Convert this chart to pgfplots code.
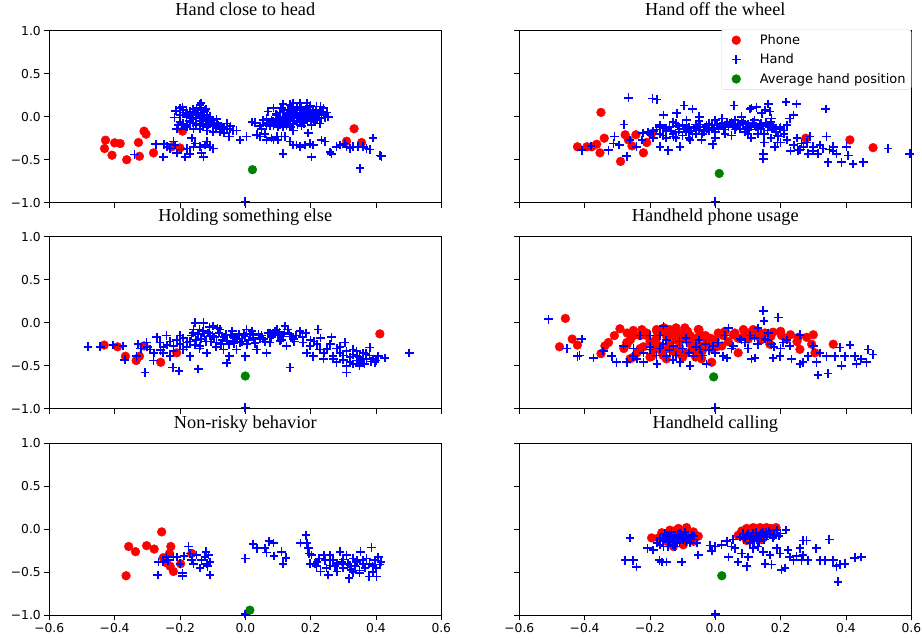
\documentclass[border=0pt]{standalone}
\usepackage{pgfplots}
\pgfplotsset{compat=1.18}
\usepackage{fontspec}
\setmainfont{Liberation Serif}
\newfontfamily\dejavu{DejaVu Sans}
\definecolor{mplgreen}{RGB}{0,128,0}
\pgfplotsset{
 panel/.style={
   scale only axis, width=392pt, height=172pt,
   xmin=-0.6, xmax=0.6, ymin=-1, ymax=1,
   xtick={-0.6,-0.4,-0.2,0,0.2,0.4,0.6},
   ytick={-1,-0.5,0,0.5,1},
   xtick pos=left, ytick pos=left,
   tick align=outside, major tick length=5pt,
   every tick/.style={black, line width=0.9pt},
   axis line style={line width=0.9pt},
   clip marker paths=false,
   title style={font=\fontsize{18.3}{20}\selectfont, anchor=base, at={(0.5,1)}, yshift=9pt, inner sep=0pt},
   tick label style={font=\dejavu\fontsize{12.3}{14}\selectfont},
   xticklabels={}, yticklabels={},
 },
 ylab/.style={yticklabels={−1.0,−0.5,0.0,0.5,1.0}},
 xlab/.style={xticklabels={−0.6,−0.4,−0.2,0.0,0.2,0.4,0.6}},
 myleg/.style={legend image code/.code={\path[draw=none,fill=none] (0pt,-3pt) rectangle (33pt,3pt); \draw[##1, only marks] plot coordinates {(11pt,0pt)};}},
 phone/.style={only marks, mark=*, mark size=4.4pt, color=red, mark options={solid}, myleg},
 hand/.style={only marks, mark=+, mark size=4.3pt, color=blue, mark options={line width=1.7pt, solid, draw=blue}, myleg},
 handx/.style={hand, forget plot},
 avg/.style={only marks, mark=*, mark size=4.4pt, color=mplgreen, mark options={solid}, myleg},
}
\begin{document}
\begin{tikzpicture}
\path[use as bounding box] (0pt,0pt) rectangle (922pt,-640pt);

% ---------------- Panel 1
\begin{axis}[panel, ylab, at={(49.3pt,-30.7pt)}, anchor=north west, title={Hand close to head}]
\addplot[phone] coordinates {(-0.428,-0.273) (-0.431,-0.37) (-0.408,-0.448) (-0.40,-0.304) (-0.383,-0.312) (-0.363,-0.50) (-0.327,-0.30) (-0.324,-0.46) (-0.31,-0.168) (-0.304,-0.203) (-0.281,-0.421) (-0.225,-0.35) (-0.20,-0.363) (-0.192,-0.168) (0.31,-0.285) (0.333,-0.14) (0.356,-0.30)};
\addplot[handx] coordinates {
(-0.217,-0.01) (-0.213,0.07) (-0.192,0.11) (-0.19,0.08) (-0.179,0.04) (-0.164,0.02) (-0.149,0.08) (-0.139,0.14) (-0.136,0.16) (-0.134,0.10) (-0.118,0.02) (-0.108,0.0) (-0.098,-0.04) (-0.088,-0.03) (-0.083,-0.10) (-0.072,-0.14) (-0.057,-0.08) (-0.047,-0.14) (-0.037,-0.16) (-0.027,-0.16) (-0.049,-0.23) (-0.065,-0.19) (-0.077,-0.18) (-0.098,-0.18) (-0.118,-0.16) (-0.139,-0.14) (-0.159,-0.14) (-0.179,-0.12) (-0.195,-0.14) (-0.21,-0.14) (-0.20,-0.06) (-0.169,-0.06) (-0.149,-0.08) (-0.128,-0.08) (-0.118,-0.12)};
\addplot[handx] coordinates {
(-0.18,0.0) (-0.16,-0.03) (-0.15,0.03) (-0.14,-0.05) (-0.13,0.05) (-0.12,-0.03) (-0.17,0.06) (-0.2,0.02) (-0.11,-0.06) (-0.1,-0.1) (-0.15,-0.1) (-0.19,-0.08) (-0.13,-0.11) (-0.09,-0.12) (-0.16,0.09) (-0.2,0.1) (-0.18,0.05) (-0.14,0.0) (-0.17,-0.05) (-0.125,-0.01)
(-0.19,0.05) (-0.175,0.02) (-0.165,-0.01) (-0.155,0.06) (-0.145,0.04) (-0.135,-0.02) (-0.125,0.07) (-0.115,-0.09) (-0.105,-0.07) (-0.095,-0.09) (-0.085,-0.07) (-0.075,-0.11) (-0.065,-0.12) (-0.055,-0.15) (-0.045,-0.11) (-0.16,-0.07) (-0.18,-0.1) (-0.205,-0.1) (-0.14,-0.09) (-0.12,0.09)};
\addplot[handx] coordinates {
(-0.248,-0.32) (-0.251,-0.47) (-0.24,-0.35) (-0.23,-0.37) (-0.22,-0.29) (-0.215,-0.33) (-0.21,-0.42) (-0.195,-0.38) (-0.185,-0.47) (-0.179,-0.37) (-0.169,-0.43) (-0.164,-0.25) (-0.159,-0.35) (-0.154,-0.31) (-0.139,-0.35) (-0.134,-0.42) (-0.128,-0.47) (-0.123,-0.33) (-0.118,-0.29) (-0.108,-0.35) (-0.098,-0.37) (-0.274,-0.32) (-0.339,-0.44)
(-0.016,-0.27) (0.004,-0.23) (0.021,-0.06) (0.03,-0.07)};
\addplot[handx] coordinates {
(0.055,-0.04) (0.065,-0.02) (0.07,0.06) (0.086,0.10) (0.096,0.02) (0.116,0.15) (0.137,0.14) (0.147,0.16) (0.157,0.10) (0.167,0.16) (0.177,0.08) (0.188,0.16) (0.198,0.12) (0.208,0.06) (0.218,0.12) (0.228,0.08) (0.239,0.10) (0.254,0.0) (0.228,-0.08) (0.218,-0.04) (0.208,-0.02) (0.198,0.0) (0.188,-0.04) (0.177,-0.02) (0.167,-0.04) (0.157,-0.06) (0.147,-0.08) (0.137,-0.10) (0.126,-0.10) (0.116,-0.12) (0.106,-0.09) (0.096,-0.08) (0.086,-0.10) (0.075,-0.11) (0.065,-0.10) (0.045,-0.11) (0.05,-0.14) (0.06,-0.2) (0.08,-0.25) (0.096,-0.23) (0.137,0.0) (0.147,0.02) (0.126,0.02) (0.116,0.0) (0.167,0.04) (0.182,0.02) (0.193,0.04) (0.213,0.02) (0.233,-0.02) (0.203,-0.10) (0.172,-0.11) (0.147,-0.16) (0.121,-0.23) (0.111,-0.23)};
\addplot[handx] coordinates {
(0.12,0.05) (0.14,0.06) (0.16,0.05) (0.18,0.06) (0.2,0.08) (0.15,-0.02) (0.17,0.0) (0.19,-0.01) (0.21,-0.06) (0.13,-0.04) (0.11,-0.06) (0.1,-0.03) (0.14,0.1) (0.16,0.12) (0.22,0.04) (0.24,0.02) (0.25,0.05) (0.2,0.13) (0.13,0.08) (0.09,-0.06) (0.08,-0.04) (0.07,-0.07) (0.155,0.03) (0.185,0.09) (0.175,-0.06) (0.21,0.03)
(0.085,-0.05) (0.095,0.03) (0.105,0.05) (0.115,0.08) (0.125,-0.03) (0.135,0.04) (0.145,-0.05) (0.155,0.08) (0.165,0.01) (0.175,0.04) (0.185,-0.02) (0.195,0.05) (0.205,0.0) (0.215,0.07) (0.225,0.03) (0.235,0.06) (0.245,-0.01) (0.1,-0.12) (0.12,-0.08) (0.14,-0.12) (0.16,-0.09) (0.18,-0.08) (0.2,-0.05) (0.22,-0.01) (0.11,0.1) (0.17,0.12) (0.19,0.11) (0.23,0.12)};
\addplot[handx] coordinates {
(0.035,-0.21) (0.045,-0.23) (0.065,-0.27) (0.086,-0.27) (0.10,-0.27) (0.116,-0.43) (0.137,-0.29) (0.147,-0.33) (0.157,-0.33) (0.167,-0.35) (0.182,-0.33) (0.198,-0.31) (0.203,-0.47) (0.208,-0.33) (0.193,-0.19) (0.233,-0.27) (0.244,-0.29) (0.259,-0.41) (0.264,-0.43) (0.279,-0.35) (0.29,-0.33) (0.305,-0.31) (0.31,-0.35) (0.32,-0.37) (0.33,-0.35) (0.346,-0.35) (0.351,-0.60) (0.361,-0.35) (0.371,-0.37) (0.381,-0.38) (0.391,-0.25) (0.412,-0.45) (0.417,-0.46)
(0.0,-0.985)};
\addplot[avg] coordinates {(0.022,-0.616)};
\end{axis}

% ---------------- Panel 2
\begin{axis}[panel, at={(519.3pt,-30.7pt)}, anchor=north west, title={Hand off the wheel},
  legend style={at={(1,1.008)}, anchor=north east, draw=black!15, rounded corners=2.5pt, fill=white, font=\dejavu\fontsize{13}{15}\selectfont, inner xsep=4pt, inner ysep=3.5pt, row sep=5pt, nodes={inner sep=1.5pt}},
  legend cell align=left]
\addplot[phone] coordinates {(-0.422,-0.35) (-0.393,-0.35) (-0.378,-0.35) (-0.363,-0.32) (-0.353,-0.42) (-0.35,0.05) (-0.34,-0.25) (-0.29,-0.52) (-0.276,-0.21) (-0.266,-0.27) (-0.255,-0.34) (-0.243,-0.21) (-0.22,-0.42) (-0.21,-0.30) (-0.195,-0.195) (0.277,-0.25) (0.412,-0.27) (0.483,-0.36)};
\addlegendentry{Phone}
\addplot[hand] coordinates {
(-0.409,-0.39) (-0.381,-0.34) (-0.327,-0.39) (-0.309,-0.23) (-0.312,-0.31) (-0.294,-0.33) (-0.279,-0.09) (-0.271,-0.46) (-0.266,0.22) (-0.261,-0.27) (-0.241,-0.35) (-0.225,-0.27) (-0.222,-0.19) (-0.205,-0.18) (-0.192,0.21) (-0.179,0.20) (-0.171,-0.12) (-0.169,-0.35) (-0.159,0.02) (-0.149,-0.14) (-0.144,-0.39) (-0.128,-0.23) (-0.118,0.04) (-0.113,-0.18) (-0.108,-0.35) (-0.096,0.13) (-0.088,-0.04) (-0.077,-0.27) (-0.07,0.09) (-0.049,0.0) (-0.042,-0.27) (-0.027,-0.10) (-0.008,-0.32) (0.0,-0.04)};
\addlegendentry{Hand}
\addplot[handx] coordinates {
(-0.2,-0.2) (-0.18,-0.15) (-0.16,-0.22) (-0.15,-0.17) (-0.14,-0.12) (-0.13,-0.2) (-0.12,-0.08) (-0.11,-0.15) (-0.1,-0.22) (-0.1,-0.1) (-0.09,-0.18) (-0.08,-0.12) (-0.07,-0.2) (-0.06,-0.09) (-0.05,-0.15) (-0.04,-0.2) (-0.03,-0.12) (-0.02,-0.16) (-0.01,-0.1) (0.0,-0.18) (0.01,-0.14) (0.02,-0.08) (0.03,-0.2) (0.04,-0.12) (0.05,-0.06) (0.06,-0.15) (0.07,-0.1) (0.08,-0.05) (0.09,-0.18) (0.1,-0.09) (0.11,-0.12) (0.12,-0.04) (0.13,-0.15) (0.14,-0.08) (0.15,-0.2) (0.16,-0.1) (0.17,-0.06) (0.18,-0.14) (0.19,-0.22)};
\addplot[handx] coordinates {
(-0.17,-0.1) (-0.19,-0.25) (-0.08,-0.25) (0.0,-0.25) (0.05,-0.22) (0.1,-0.2) (-0.05,-0.05) (0.02,-0.02) (0.08,-0.0) (0.12,-0.1) (-0.12,-0.25) (-0.15,-0.25) (-0.06,-0.2) (0.06,-0.04) (0.1,-0.14) (0.14,-0.14) (0.16,-0.16) (-0.02,-0.08) (-0.13,-0.06) (0.03,-0.1) (-0.085,-0.14) (-0.035,-0.17) (0.015,-0.11) (0.065,-0.12) (0.115,-0.07) (0.165,-0.12) (0.045,-0.08) (-0.065,-0.13)
(-0.19,-0.17) (-0.17,-0.2) (-0.155,-0.13) (-0.135,-0.16) (-0.115,-0.11) (-0.095,-0.14) (-0.075,-0.16) (-0.055,-0.12) (-0.045,-0.09) (-0.025,-0.14) (-0.005,-0.13) (0.005,-0.09) (0.025,-0.15) (0.035,-0.07) (0.055,-0.1) (0.075,-0.14) (0.085,-0.08) (0.095,-0.12) (0.105,-0.15) (0.125,-0.12) (0.135,-0.09) (0.145,-0.11) (0.155,-0.07) (0.175,-0.1) (0.185,-0.18) (0.2,-0.12) (0.21,-0.16) (0.22,-0.1) (0.13,-0.2) (0.11,-0.25)};
\addplot[handx] coordinates {
(0.057,0.13) (0.086,-0.06) (0.106,0.09) (0.111,0.10) (0.126,0.11) (0.142,0.04) (0.147,-0.43) (0.147,-0.49) (0.152,0.08) (0.162,0.15) (0.167,0.06) (0.172,-0.02) (0.177,-0.12) (0.182,-0.35) (0.193,-0.23) (0.198,-0.14) (0.216,0.17) (0.228,-0.02) (0.239,0.02) (0.249,0.15) (0.254,-0.39) (0.264,-0.31) (0.284,-0.43) (0.29,-0.23) (0.3,-0.35) (0.315,-0.43) (0.33,-0.37) (0.338,0.09) (0.34,-0.23) (0.345,-0.53) (0.361,-0.35) (0.371,-0.43) (0.386,-0.53) (0.402,-0.35) (0.407,-0.45) (0.422,-0.55) (0.453,-0.53) (0.529,-0.37) (0.595,-0.43)};
\addplot[handx] coordinates {
(0.2,-0.3) (0.22,-0.27) (0.24,-0.33) (0.26,-0.38) (0.28,-0.3) (0.3,-0.4) (0.32,-0.33) (0.23,-0.4) (0.21,-0.2) (0.25,-0.25) (0.19,-0.3) (0.17,-0.25) (0.15,-0.3) (0.27,-0.35) (0.35,-0.38) (0.36,-0.4)
(0.0,-0.985)};
\addplot[avg] coordinates {(0.012,-0.66)};
\addlegendentry{Average hand position}
\end{axis}

% ---------------- Panel 3
\begin{axis}[panel, ylab, at={(49.3pt,-236.7pt)}, anchor=north west, title={Holding something else}]
\addplot[phone] coordinates {(-0.432,-0.26) (-0.391,-0.28) (-0.367,-0.39) (-0.334,-0.44) (-0.324,-0.39) (-0.31,-0.27) (-0.259,-0.46) (-0.21,-0.35) (0.412,-0.13)};
\addplot[handx] coordinates {
(-0.482,-0.28) (-0.444,-0.28) (-0.404,-0.26) (-0.374,-0.27) (-0.369,-0.43) (-0.333,-0.39) (-0.328,-0.25) (-0.307,-0.58) (-0.302,-0.23) (-0.291,-0.31) (-0.281,-0.44) (-0.271,-0.17) (-0.261,-0.23) (-0.251,-0.35) (-0.241,-0.15) (-0.23,-0.39) (-0.222,-0.52) (-0.22,-0.27) (-0.203,-0.56) (-0.2,-0.15) (-0.19,-0.31) (-0.179,-0.23) (-0.169,-0.39) (-0.159,-0.08) (-0.154,0.0) (-0.144,-0.54) (-0.139,-0.27) (-0.128,0.0) (-0.118,-0.35) (-0.108,-0.15) (-0.098,-0.04) (-0.088,-0.23) (-0.077,-0.08) (-0.067,-0.31) (-0.057,-0.47) (-0.049,-0.39) (-0.037,-0.17) (-0.027,-0.31) (-0.016,-0.23) (0.0,-0.39)};
\addplot[handx] coordinates {
(0.004,-0.08) (0.024,-0.15) (0.035,-0.31) (0.045,-0.19) (0.065,-0.35) (0.075,-0.12) (0.096,-0.08) (0.106,-0.21) (0.121,-0.04) (0.126,-0.27) (0.137,-0.52) (0.147,-0.19) (0.167,-0.10) (0.177,-0.23) (0.188,-0.35) (0.198,-0.27) (0.208,-0.39) (0.223,-0.08) (0.228,-0.31) (0.239,-0.42) (0.249,-0.31) (0.264,-0.17) (0.269,-0.39) (0.279,-0.46) (0.29,-0.35) (0.305,-0.23) (0.31,-0.58) (0.32,-0.46) (0.33,-0.31) (0.341,-0.39) (0.351,-0.46) (0.361,-0.35) (0.371,-0.42) (0.381,-0.29) (0.396,-0.46) (0.407,-0.39) (0.427,-0.41) (0.502,-0.35)};
\addplot[handx] coordinates {
(-0.15,-0.2) (-0.13,-0.1) (-0.12,-0.22) (-0.1,-0.15) (-0.09,-0.28) (-0.08,-0.12) (-0.07,-0.2) (-0.06,-0.14) (-0.05,-0.25) (-0.04,-0.1) (-0.03,-0.18) (-0.02,-0.13) (-0.01,-0.22) (0.0,-0.16) (0.01,-0.2) (0.02,-0.1) (0.03,-0.24) (0.05,-0.15) (0.06,-0.22) (0.08,-0.17) (0.09,-0.1) (0.1,-0.14) (0.11,-0.2) (0.12,-0.12) (0.14,-0.16) (0.15,-0.22) (-0.14,-0.3) (-0.11,-0.05) (-0.16,-0.12) (-0.18,-0.28) (-0.2,-0.25) (-0.22,-0.33) (-0.25,-0.28) (-0.28,-0.35)};
\addplot[handx] coordinates {
(0.2,-0.2) (0.22,-0.25) (0.25,-0.3) (0.28,-0.3) (0.3,-0.38) (0.32,-0.4) (0.34,-0.33) (0.36,-0.42) (0.38,-0.38) (0.4,-0.44) (0.33,-0.48) (0.27,-0.42) (0.24,-0.35) (0.35,-0.5) (-0.14,-0.08) (-0.115,-0.12) (-0.085,-0.06) (-0.045,-0.14) (0.015,-0.13) (0.07,-0.12) (0.13,-0.08)};
\addplot[handx] coordinates {
(-0.19,-0.18) (-0.17,-0.22) (-0.165,-0.15) (-0.155,-0.26) (-0.145,-0.13) (-0.135,-0.19) (-0.125,-0.16) (-0.105,-0.22) (-0.095,-0.17) (-0.075,-0.25) (-0.065,-0.17) (-0.055,-0.21) (-0.035,-0.24) (-0.025,-0.19) (-0.005,-0.14) (0.005,-0.25) (0.025,-0.18) (0.04,-0.13) (0.055,-0.19) (0.075,-0.23) (0.085,-0.14) (0.105,-0.11) (0.115,-0.16)};
\addplot[handx] coordinates {
(0.135,-0.13) (0.155,-0.15) (0.175,-0.17) (0.185,-0.12) (0.21,-0.22) (0.23,-0.18) (0.26,-0.25) (0.29,-0.28) (0.31,-0.33) (0.33,-0.37) (0.35,-0.4) (0.37,-0.36) (0.39,-0.42) (0.345,-0.44) (0.365,-0.48) (0.385,-0.45) (0.3,-0.43) (0.31,-0.5) (-0.23,-0.22) (-0.26,-0.32) (-0.3,-0.28) (-0.32,-0.3) (-0.24,-0.26) (-0.21,-0.2)
(0.0,-0.985)};
\addplot[avg] coordinates {(0.0,-0.62)};
\end{axis}

% ---------------- Panel 4
\begin{axis}[panel, at={(519.3pt,-236.7pt)}, anchor=north west, title={Handheld phone usage}]
\addplot[phone] coordinates {(-0.477,-0.28) (-0.459,0.05) (-0.438,-0.19) (-0.422,-0.26) (-0.35,-0.36) (-0.338,-0.27) (-0.327,-0.23) (-0.309,-0.15) (-0.292,-0.07) (-0.271,-0.23) (-0.261,-0.42) (-0.251,-0.09) (-0.225,-0.08) (-0.21,-0.15) (-0.195,-0.39) (-0.179,-0.10) (-0.157,-0.06) (-0.139,-0.08) (-0.128,-0.15) (-0.113,-0.12) (-0.093,-0.06) (-0.077,-0.15) (-0.052,-0.08) (-0.042,-0.42) (-0.027,-0.19) (-0.011,-0.46) (0.009,-0.12) (0.024,-0.15) (0.055,-0.14) (0.07,-0.35) (0.086,-0.08) (0.101,-0.19) (0.116,-0.08) (0.131,-0.10) (0.152,-0.12) (0.167,-0.25) (0.177,-0.11) (0.203,-0.15) (0.218,-0.19) (0.254,-0.17) (0.259,-0.31) (0.295,-0.25) (0.3,-0.14) (0.305,-0.35) (0.361,-0.25)};
\addplot[phone, forget plot] coordinates {
(-0.28,-0.3) (-0.26,-0.2) (-0.24,-0.35) (-0.23,-0.15) (-0.22,-0.28) (-0.2,-0.22) (-0.19,-0.32) (-0.18,-0.18) (-0.17,-0.27) (-0.16,-0.38) (-0.15,-0.15) (-0.14,-0.25) (-0.13,-0.33) (-0.12,-0.2) (-0.11,-0.28) (-0.1,-0.12) (-0.09,-0.35) (-0.08,-0.22) (-0.07,-0.3) (-0.06,-0.18) (-0.05,-0.26) (-0.04,-0.33) (-0.03,-0.15) (-0.02,-0.24) (-0.01,-0.3) (0.0,-0.2) (0.02,-0.27) (0.04,-0.22) (0.06,-0.12) (0.1,-0.12) (0.12,-0.15) (0.14,-0.2) (-0.25,-0.4) (-0.2,-0.4) (-0.15,-0.42) (-0.1,-0.4) (-0.06,-0.4) (-0.27,-0.12) (-0.18,-0.08) (-0.12,-0.06) (-0.05,-0.08)};
\addplot[phone, forget plot] coordinates {
(-0.27,-0.25) (-0.25,-0.15) (-0.23,-0.3) (-0.21,-0.12) (-0.19,-0.25) (-0.17,-0.1) (-0.165,-0.33) (-0.145,-0.3) (-0.135,-0.12) (-0.115,-0.35) (-0.105,-0.2) (-0.085,-0.1) (-0.075,-0.25) (-0.055,-0.32) (-0.045,-0.14) (-0.035,-0.27) (-0.015,-0.18) (0.005,-0.28) (0.03,-0.1) (0.07,-0.18) (0.09,-0.14) (0.13,-0.15) (0.17,-0.16) (0.2,-0.1) (0.23,-0.14) (0.25,-0.22) (0.28,-0.17)};
\addplot[handx] coordinates {
(-0.511,0.04) (-0.455,-0.30) (-0.422,-0.39) (-0.416,-0.38) (-0.409,-0.19) (-0.373,-0.41) (-0.343,-0.33) (-0.317,-0.39) (-0.302,-0.46) (-0.281,-0.27) (-0.271,-0.46) (-0.251,-0.39) (-0.23,-0.15) (-0.22,-0.46) (-0.2,-0.31) (-0.179,-0.48) (-0.169,-0.15) (-0.159,-0.04) (-0.149,-0.39) (-0.128,-0.27) (-0.108,-0.46) (-0.088,-0.23) (-0.077,-0.50) (-0.067,-0.39) (-0.047,-0.31) (-0.027,-0.48) (-0.006,-0.27) (0.009,-0.23) (0.024,-0.39) (0.035,-0.41) (0.04,-0.06) (0.055,-0.27) (0.075,-0.19) (0.091,-0.23) (0.106,-0.15)};
\addplot[handx] coordinates {
(0.111,-0.42) (0.121,-0.41) (0.131,-0.06) (0.147,0.14) (0.149,0.02) (0.152,-0.19) (0.162,-0.12) (0.172,-0.25) (0.177,-0.41) (0.193,0.06) (0.198,-0.39) (0.208,-0.23) (0.228,-0.27) (0.233,-0.42) (0.259,-0.14) (0.259,-0.48) (0.269,-0.46) (0.284,-0.39) (0.3,-0.27) (0.31,-0.46) (0.315,-0.61) (0.32,-0.35) (0.34,-0.39) (0.345,-0.59) (0.366,-0.39) (0.381,-0.29) (0.386,-0.50) (0.396,-0.39) (0.412,-0.26) (0.427,-0.39) (0.432,-0.48) (0.447,-0.42) (0.463,-0.46) (0.468,-0.31) (0.483,-0.37)};
\addplot[handx] coordinates {
(-0.25,-0.3) (-0.22,-0.35) (-0.2,-0.28) (-0.18,-0.38) (-0.16,-0.25) (-0.14,-0.32) (-0.12,-0.38) (-0.1,-0.3) (-0.08,-0.35) (-0.06,-0.28) (-0.04,-0.38) (-0.02,-0.32) (0.0,-0.35) (-0.15,-0.2) (-0.05,-0.2) (0.05,-0.3) (0.1,-0.3) (0.13,-0.25) (0.16,-0.2) (0.2,-0.3) (-0.24,-0.42) (-0.13,-0.43) (-0.2,-0.15) (-0.09,-0.18) (0.03,-0.15) (0.08,-0.2) (-0.17,-0.3) (-0.11,-0.22) (-0.03,-0.25) (0.12,-0.18) (0.18,-0.28) (0.22,-0.2)
(0.0,-0.985)};
\addplot[avg] coordinates {(-0.005,-0.63)};
\end{axis}

% ---------------- Panel 5
\begin{axis}[panel, ylab, xlab, at={(49.3pt,-443.3pt)}, anchor=north west, title={Non-risky behavior}]
\addplot[phone] coordinates {(-0.365,-0.54) (-0.357,-0.20) (-0.336,-0.26) (-0.302,-0.19) (-0.279,-0.23) (-0.256,-0.03) (-0.251,-0.33) (-0.241,-0.39) (-0.232,-0.28) (-0.228,-0.20) (-0.23,-0.43) (-0.22,-0.49) (-0.198,-0.40) (-0.164,-0.28)};
\addplot[handx] coordinates {
(-0.268,-0.53) (-0.266,-0.38) (-0.251,-0.38) (-0.241,-0.32) (-0.236,-0.36) (-0.22,-0.32) (-0.21,-0.32) (-0.2,-0.40) (-0.192,-0.51) (-0.192,-0.54) (-0.188,-0.31) (-0.174,-0.20) (-0.169,-0.28) (-0.164,-0.36) (-0.159,-0.40) (-0.149,-0.30) (-0.139,-0.45) (-0.134,-0.36) (-0.123,-0.32) (-0.12,-0.26) (-0.118,-0.40) (-0.116,-0.43) (-0.113,-0.30) (-0.108,-0.53) (-0.108,-0.38)
(0.0,-0.34) (0.0,-0.985) (0.024,-0.17) (0.035,-0.22) (0.06,-0.22) (0.065,-0.27) (0.073,-0.14) (0.086,-0.16) (0.088,-0.31) (0.111,-0.26) (0.116,-0.40) (0.124,-0.33)};
\addplot[handx] coordinates {
(0.169,-0.16) (0.186,-0.07) (0.188,-0.16) (0.193,-0.22) (0.196,-0.28) (0.198,-0.40) (0.203,-0.30) (0.213,-0.40) (0.218,-0.43) (0.226,-0.34) (0.23,-0.49) (0.244,-0.36) (0.249,-0.45) (0.254,-0.53) (0.259,-0.30) (0.269,-0.36) (0.274,-0.43) (0.281,-0.49) (0.29,-0.26) (0.295,-0.38) (0.3,-0.45) (0.31,-0.30) (0.315,-0.40) (0.318,-0.57) (0.325,-0.47) (0.33,-0.34) (0.336,-0.43) (0.343,-0.36) (0.35,-0.51) (0.353,-0.26) (0.36,-0.40) (0.366,-0.45) (0.371,-0.34) (0.379,-0.55) (0.386,-0.21) (0.389,-0.43) (0.396,-0.36) (0.402,-0.55) (0.407,-0.32) (0.412,-0.41) (0.415,-0.38)};
\addplot[handx] coordinates {
(0.28,-0.4) (0.3,-0.35) (0.32,-0.42) (0.34,-0.38) (0.36,-0.36) (0.38,-0.4) (0.4,-0.45) (0.26,-0.42) (0.22,-0.38) (0.24,-0.3) (0.35,-0.48) (0.39,-0.5) (0.33,-0.5)};
\addplot[avg] coordinates {(0.014,-0.94)};
\end{axis}

% ---------------- Panel 6
\begin{axis}[panel, xlab, at={(519.3pt,-443.3pt)}, anchor=north west, title={Handheld calling}]
\addplot[phone] coordinates {(-0.195,-0.10) (-0.164,-0.04) (-0.154,-0.09) (-0.139,-0.01) (-0.113,0.01) (-0.088,0.02) (-0.067,-0.03) (-0.052,-0.08) (-0.067,-0.14) (-0.098,-0.18) (-0.128,-0.20) (-0.123,-0.07) (-0.077,-0.10) (-0.108,-0.12) (-0.149,-0.14) (-0.174,-0.10) (-0.1,-0.05) (-0.125,-0.02) (-0.08,-0.06)
(0.07,-0.07) (0.081,-0.02) (0.096,0.01) (0.116,0.02) (0.137,0.02) (0.157,0.02) (0.186,0.02) (0.167,-0.03) (0.147,-0.07) (0.126,-0.09) (0.106,-0.07) (0.086,-0.08) (0.177,-0.05) (0.142,-0.12) (0.096,-0.13) (0.106,0.0) (0.127,0.01) (0.147,0.01) (0.17,0.01)};
\addplot[handx] coordinates {
(-0.261,-0.10) (-0.276,-0.36) (-0.251,-0.36) (-0.241,-0.44) (-0.208,-0.22) (-0.19,-0.24) (-0.179,-0.16) (-0.171,-0.36) (-0.164,-0.38) (-0.149,-0.38) (-0.169,-0.10) (-0.159,-0.14) (-0.149,-0.07) (-0.139,-0.12) (-0.128,-0.09) (-0.118,-0.16) (-0.108,-0.05) (-0.103,-0.38) (-0.098,-0.12) (-0.088,-0.09) (-0.077,-0.16) (-0.067,-0.12) (-0.057,-0.16) (-0.052,-0.30) (-0.144,-0.20) (-0.123,-0.20) (-0.159,-0.20) (-0.113,-0.10) (-0.134,-0.03) (-0.093,-0.03) (-0.072,-0.07) (-0.169,-0.18) (-0.15,-0.1) (-0.13,-0.14) (-0.11,-0.15) (-0.09,-0.14) (-0.14,-0.06) (-0.12,-0.11)};
\addplot[handx] coordinates {
(-0.155,-0.05) (-0.145,-0.15) (-0.135,-0.08) (-0.125,-0.13) (-0.115,-0.06) (-0.105,-0.09) (-0.095,-0.07) (-0.085,-0.12) (-0.075,-0.1) (-0.065,-0.08) (-0.16,-0.12) (-0.13,-0.18)
(-0.016,-0.19) (-0.011,-0.25) (0.0,-0.20) (0.019,-0.18) (0.035,-0.14) (0.04,-0.32) (0.05,-0.20) (0.055,-0.12) (0.06,-0.22) (0.07,-0.38) (0.081,-0.28) (0.096,-0.43) (0.101,-0.32)};
\addplot[handx] coordinates {
(0.075,-0.09) (0.086,-0.12) (0.096,-0.07) (0.106,-0.10) (0.116,-0.05) (0.126,-0.12) (0.137,-0.07) (0.147,-0.03) (0.157,-0.09) (0.167,-0.05) (0.177,-0.10) (0.188,-0.01) (0.2,-0.05) (0.216,-0.01) (0.106,-0.16) (0.116,-0.22) (0.131,-0.20) (0.147,-0.26) (0.152,-0.40) (0.167,-0.30) (0.172,-0.41) (0.188,-0.22) (0.198,-0.28) (0.203,-0.47) (0.213,-0.45) (0.223,-0.24) (0.228,-0.32) (0.239,-0.36) (0.249,-0.31) (0.259,-0.22)};
\addplot[handx] coordinates {
(0.264,-0.36) (0.269,-0.13) (0.279,-0.13) (0.269,-0.30) (0.284,-0.36) (0.309,-0.22) (0.32,-0.36) (0.335,-0.36) (0.349,-0.12) (0.361,-0.36) (0.371,-0.43) (0.376,-0.61) (0.381,-0.41) (0.396,-0.40) (0.427,-0.33) (0.447,-0.32)
(0.09,-0.1) (0.11,-0.08) (0.13,-0.1) (0.15,-0.12) (0.12,-0.14) (0.14,-0.05) (0.16,-0.06) (0.18,-0.07) (0.1,-0.05) (0.085,-0.05) (0.125,-0.04) (0.165,-0.02) (0.195,-0.08) (0.135,-0.14) (0.155,-0.04)
(0.0,-0.985)};
\addplot[avg] coordinates {(0.02,-0.54)};
\end{axis}
\end{tikzpicture}
\end{document}
